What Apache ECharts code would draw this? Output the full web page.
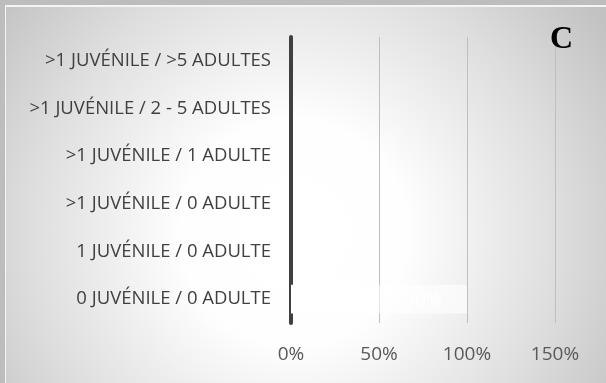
<!DOCTYPE html>
<html lang="fr">
<head>
<meta charset="UTF-8">
<title>C</title>
<script src="https://cdn.jsdelivr.net/npm/echarts@6/dist/echarts.min.js"></script>
<style>
  body { margin: 0; }
  #frame { position: relative; width: 606px; height: 383px; background: #bdbdbd; overflow: hidden; }
  #main { position: absolute; left: 5px; top: 5px; width: 601px; height: 378px;
          box-sizing: border-box; border-top: 2px solid #f4f4f4; border-left: 1px solid #f4f4f4; }
</style>
</head>
<body>
<div id="frame"><div id="main"></div></div>
<script type="text/javascript">
// catégories (de bas en haut)
var categories = ['0 JUVÉNILE / 0 ADULTE', '1 JUVÉNILE / 0 ADULTE', '>1 JUVÉNILE / 0 ADULTE',
                  '>1 JUVÉNILE / 1 ADULTE', '>1 JUVÉNILE / 2 - 5 ADULTES', '>1 JUVÉNILE / >5 ADULTES'];
// deux segments empilés, seule la première ligne a des barres
var seg1 = [50, null, null, null, null, null];
var seg2 = [50, null, null, null, null, null];
var xTicks = [0, 50, 100, 150];

var myChart = echarts.init(document.getElementById('main'));

var labelStyle = {
    show: true,
    position: 'inside',
    color: '#ffffff',
    fontSize: 19,
    fontFamily: 'Open Sans',
    formatter: function (p) { return p.value == null ? '' : p.value + '%'; }
};

var option = {
    backgroundColor: {
        type: 'radial', x: 0.48, y: 0.6, r: 1.0,
        colorStops: [
            { offset: 0, color: '#ffffff' },
            { offset: 0.3, color: '#fefefe' },
            { offset: 0.7, color: '#dedede' },
            { offset: 1, color: '#c2c2c2' }
        ]
    },
    textStyle: { fontFamily: 'Open Sans' },
    grid: { left: 285, right: 51, top: 30, bottom: 60 },
    xAxis: {
        type: 'value',
        min: xTicks[0],
        max: xTicks[xTicks.length - 1],
        interval: 50,
        axisLine: { show: false },
        axisTick: { show: false },
        splitLine: { show: true, lineStyle: { color: '#bfbfbf', width: 1 } },
        axisLabel: { color: '#595959', fontSize: 19, margin: 22, formatter: '{value}%' }
    },
    yAxis: {
        type: 'category',
        data: categories,
        axisLine: { show: true, lineStyle: { color: '#404040', width: 4 } },
        axisTick: { show: false },
        axisLabel: { color: '#404040', fontSize: 18.5, margin: 20 }
    },
    series: [
        {
            name: 'a', type: 'bar', stack: 'tot', barCategoryGap: '40%',
            data: seg1,
            itemStyle: { color: '#ffffff' },
            label: labelStyle
        },
        {
            name: 'b', type: 'bar', stack: 'tot',
            data: seg2,
            itemStyle: { color: 'rgba(255,255,255,0.6)' },
            label: labelStyle
        }
    ],
    graphic: [
        {
            type: 'text', left: 544, top: 17, z: 100,
            style: { text: 'C', font: 'bold 32px "Liberation Serif"', fill: '#000000' }
        }
    ]
};

myChart.setOption(option);
</script>
</body>
</html>
